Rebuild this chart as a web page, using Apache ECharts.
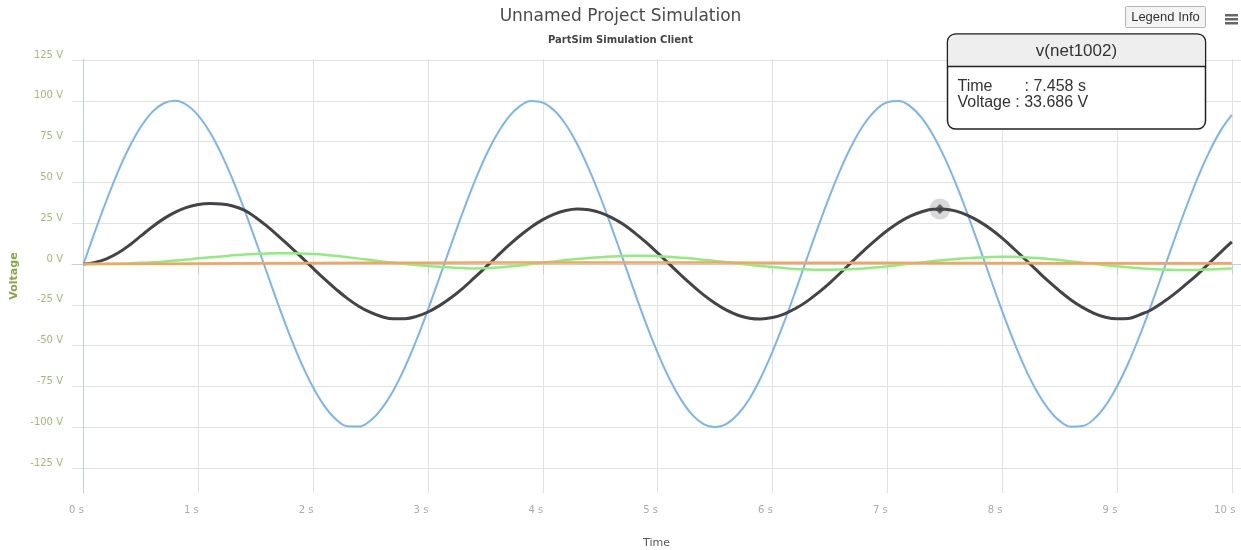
<!DOCTYPE html>
<html>
<head>
<meta charset="utf-8">
<title>Unnamed Project Simulation</title>
<script src="https://cdn.jsdelivr.net/npm/echarts@6/dist/echarts.min.js"></script>
<style>
  html, body { margin: 0; padding: 0; background: #fff; }
  #chart { width: 1241px; height: 550px; }
</style>
</head>
<body>
<div id="chart"></div>
<script>
// tick values
var timeTicks = [0, 1, 2, 3, 4, 5, 6, 7, 8, 9, 10];
var voltTicks = [-125, -100, -75, -50, -25, 0, 25, 50, 75, 100, 125];

// sample times (s), every 0.1 s
var sampleTimes = [
  0.0, 0.1, 0.2, 0.3, 0.4, 0.5, 0.6, 0.7, 0.8, 0.9,
  1.0, 1.1, 1.2, 1.3, 1.4, 1.5, 1.6, 1.7, 1.8, 1.9,
  2.0, 2.1, 2.2, 2.3, 2.4, 2.5, 2.6, 2.7, 2.8, 2.9,
  3.0, 3.1, 3.2, 3.3, 3.4, 3.5, 3.6, 3.7, 3.8, 3.9,
  4.0, 4.1, 4.2, 4.3, 4.4, 4.5, 4.6, 4.7, 4.8, 4.9,
  5.0, 5.1, 5.2, 5.3, 5.4, 5.5, 5.6, 5.7, 5.8, 5.9,
  6.0, 6.1, 6.2, 6.3, 6.4, 6.5, 6.6, 6.7, 6.8, 6.9,
  7.0, 7.1, 7.2, 7.3, 7.4, 7.5, 7.6, 7.7, 7.8, 7.9,
  8.0, 8.1, 8.2, 8.3, 8.4, 8.5, 8.6, 8.7, 8.8, 8.9,
  9.0, 9.1, 9.2, 9.3, 9.4, 9.5, 9.6, 9.7, 9.8, 9.9,
  10.0];

// v(net1001) - source, blue
var net1001Volts = [
  0, 19.9, 38.9, 56.5, 71.7, 84.1, 93.2, 98.5, 100.0, 97.4,
  90.9, 80.9, 67.5, 51.6, 33.5, 14.1, -5.8, -25.6, -44.3, -61.2,
  -75.7, -87.2, -95.2, -99.4, -99.6, -95.9, -88.3, -77.3, -63.1, -46.5,
  -27.9, -8.3, 11.6, 31.2, 49.4, 65.7, 79.3, 89.9, 96.7, 99.9,
  98.9, 94.1, 85.5, 73.4, 58.4, 41.2, 22.3, 2.5, -17.4, -36.7,
  -54.4, -70.0, -82.7, -92.3, -98.1, -100.0, -97.9, -91.9, -82.5, -69.4,
  -53.7, -35.9, -16.6, 3.4, 23.2, 42.0, 59.2, 74.0, 85.9, 94.4,
  99.1, 99.8, 96.6, 89.5, 78.8, 65.0, 48.6, 30.3, 10.8, -9.2,
  -28.8, -47.2, -63.8, -77.8, -88.6, -96.1, -99.7, -99.3, -95.0, -86.8,
  -75.1, -60.5, -43.5, -24.7, -5.0, 15.0, 34.3, 52.3, 68.2, 81.4,
  91.3];

// v(net1002) - black
var net1002Volts = [
  0, 1.0, 3.2, 6.7, 11.5, 17.2, 22.8, 27.8, 31.8, 34.7,
  36.4, 37.0, 36.7, 35.5, 33.0, 28.5, 23.0, 17.0, 10.6, 4.1,
  -2.7, -9.3, -15.5, -21.2, -26.0, -29.7, -32.3, -33.6, -33.5, -32.1,
  -29.4, -25.5, -20.7, -15.1, -8.7, -2.1, 4.6, 11.2, 17.3, 22.7,
  27.2, 30.6, 32.8, 33.7, 33.2, 31.5, 28.4, 24.3, 19.1, 13.2,
  6.8, 0.1, -6.6, -13.0, -18.9, -24.0, -28.3, -31.4, -33.2, -33.7,
  -32.8, -30.7, -27.3, -22.9, -17.5, -11.5, -4.9, 1.9, 8.5, 14.8,
  20.5, 25.4, 29.3, 32.0, 33.5, 33.6, 32.4, 29.8, 26.1, 21.4,
  15.8, 9.5, 2.9, -3.8, -10.4, -16.5, -22.0, -26.6, -30.2, -32.6,
  -33.6, -33.4, -31.0, -28.0, -23.5, -18.3, -12.5, -6.5, 0.3, 7.0,
  13.5];

// v(net1003) - green
var net1003Volts = [
  0, 0.0, 0.1, 0.2, 0.4, 0.7, 1.0, 1.5, 2.1, 2.7,
  3.5, 4.1, 4.6, 5.3, 5.8, 6.2, 6.5, 6.6, 6.6, 6.5,
  6.2, 5.7, 5.0, 4.2, 3.3, 2.4, 1.5, 0.7, 0.0, -0.6,
  -1.2, -1.7, -2.2, -2.5, -2.7, -2.6, -2.2, -1.6, -0.9, 0.0,
  0.8, 1.6, 2.4, 3.1, 3.7, 4.2, 4.6, 4.9, 5.0, 5.0,
  4.8, 4.4, 3.9, 3.3, 2.6, 1.9, 1.1, 0.3, -0.5, -1.2,
  -1.9, -2.5, -3.0, -3.3, -3.5, -3.5, -3.4, -3.1, -2.7, -2.1,
  -1.4, -0.6, 0.2, 1.0, 1.8, 2.5, 3.1, 3.6, 4.0, 4.3,
  4.4, 4.4, 4.1, 3.7, 3.1, 2.4, 1.6, 0.8, 0.0, -0.7,
  -1.4, -2.0, -2.6, -3.0, -3.4, -3.6, -3.7, -3.6, -3.3, -3.0,
  -2.7];

// v(out) - orange, read every 1 s
var outTimes = [0, 1, 2, 3, 4, 5, 6, 7, 8, 9, 10];
var outVolts = [0, 0.3, 0.6, 0.8, 0.9, 0.9, 0.8, 0.7, 0.6, 0.5, 0.5];

// hovered point
var hoverName = 'v(net1002)';
var hoverTime = 7.458;
var hoverVolt = 33.686;

function pairs(ts, vs) {
  return ts.map(function (t, i) { return [t, vs[i]]; });
}

function lineSeries(name, data, color, width) {
  return {
    name: name,
    type: 'line',
    data: data,
    smooth: 0.4,
    showSymbol: false,
    silent: true,
    lineStyle: { color: color, width: width },
    itemStyle: { color: color }
  };
}

var TIP_Z = 100;
var tipFont = '"Liberation Sans", Arial, sans-serif';

var chart = echarts.init(document.getElementById('chart'));

var option = {
  animation: false,
  title: [
    {
      text: 'Unnamed Project Simulation',
      left: 'center',
      top: 3,
      textStyle: { fontFamily: 'DejaVu Sans', fontSize: 17, fontWeight: 'normal', color: '#4a4a4a' }
    },
    {
      text: 'PartSim Simulation Client',
      left: 'center',
      top: 30,
      textStyle: { fontFamily: 'DejaVu Sans', fontSize: 10, fontWeight: 'bold', color: '#444' }
    }
  ],
  grid: { left: 72, right: 0, top: 59, bottom: 57, outerBoundsMode: 'none', containLabel: false },
  xAxis: {
    type: 'value',
    min: -0.1,
    max: 10.08,
    name: 'Time',
    nameLocation: 'middle',
    nameGap: 45,
    nameTextStyle: { fontFamily: 'DejaVu Sans', fontSize: 11, color: '#555' },
    axisLine: { show: true, lineStyle: { color: '#c0d0e0', width: 1 } },
    axisTick: { show: true, customValues: timeTicks, length: 10, lineStyle: { color: '#c0d0e0' } },
    axisLabel: {
      customValues: timeTicks,
      formatter: function (v) { return v + ' s'; },
      fontFamily: 'DejaVu Sans',
      fontSize: 10,
      color: '#aaa',
      margin: 12,
      padding: [0, 14, 0, 0]
    },
    splitLine: { show: true, lineStyle: { color: '#e2e2e2', width: 1 } }
  },
  yAxis: {
    type: 'value',
    min: -140.3,
    max: 125.6,
    name: 'Voltage',
    nameLocation: 'middle',
    nameGap: 52,
    nameTextStyle: { fontFamily: 'DejaVu Sans', fontSize: 11, fontWeight: 'bold', color: '#89a54e' },
    axisLine: { show: true, lineStyle: { color: '#c0d0e0', width: 1 } },
    axisTick: { show: false, customValues: voltTicks },
    axisLabel: {
      customValues: voltTicks,
      formatter: function (v) { return v + ' V'; },
      fontFamily: 'DejaVu Sans',
      fontSize: 10,
      color: '#a3b877',
      margin: 9,
      verticalAlign: 'bottom'
    },
    splitLine: { show: true, lineStyle: { color: '#e2e2e2', width: 1 } }
  },
  series: [
    lineSeries('v(net1001)', pairs(sampleTimes, net1001Volts), '#7cb5ec', 2),
    lineSeries(hoverName, pairs(sampleTimes, net1002Volts), '#434348', 3),
    lineSeries('v(net1003)', pairs(sampleTimes, net1003Volts), '#90ed7d', 2.5),
    lineSeries('v(out)', pairs(outTimes, outVolts), '#f7a35c', 2.5),
    {
      type: 'scatter',
      silent: true,
      symbol: 'circle',
      symbolSize: 21,
      itemStyle: { color: 'rgba(67,67,72,0.25)' },
      data: [[hoverTime, hoverVolt]]
    },
    {
      type: 'scatter',
      silent: true,
      symbol: 'diamond',
      symbolSize: 10,
      itemStyle: { color: '#434348' },
      data: [[hoverTime, hoverVolt]]
    }
  ],
  graphic: [
    // export menu button
    { type: 'rect', shape: { x: 1225, y: 14, width: 13, height: 2.5 }, style: { fill: '#666' } },
    { type: 'rect', shape: { x: 1225, y: 18, width: 13, height: 2.5 }, style: { fill: '#666' } },
    { type: 'rect', shape: { x: 1225, y: 22, width: 13, height: 2.5 }, style: { fill: '#666' } },
    // legend info button
    {
      type: 'rect',
      shape: { x: 1125.5, y: 6.5, width: 80, height: 21, r: 1 },
      style: { fill: '#f4f4f4', stroke: '#b5b5b5', lineWidth: 1 }
    },
    {
      type: 'text',
      x: 1165.5, y: 17,
      style: { text: 'Legend Info', font: '13px ' + tipFont, fill: '#333', align: 'center', verticalAlign: 'middle' }
    },
    // tooltip box
    {
      type: 'rect', z: TIP_Z,
      shape: { x: 947.5, y: 34, width: 258, height: 95, r: 8 },
      style: { fill: '#fff', stroke: '#222', lineWidth: 1.5 }
    },
    {
      type: 'rect', z: TIP_Z + 1,
      shape: { x: 948.3, y: 34.8, width: 256.4, height: 31.4, r: [7, 7, 0, 0] },
      style: { fill: '#eeeeee' }
    },
    {
      type: 'line', z: TIP_Z + 2,
      shape: { x1: 947.5, y1: 66.5, x2: 1205.5, y2: 66.5 },
      style: { stroke: '#222', lineWidth: 1.5 }
    },
    {
      type: 'text', z: TIP_Z + 2,
      x: 1076.5, y: 51,
      style: { text: hoverName, font: '17px ' + tipFont, fill: '#333', align: 'center', verticalAlign: 'middle' }
    },
    {
      type: 'text', z: TIP_Z + 2,
      x: 957.5, y: 86.5,
      style: { text: 'Time', font: '16px ' + tipFont, fill: '#333', verticalAlign: 'middle' }
    },
    {
      type: 'text', z: TIP_Z + 2,
      x: 1024.5, y: 86.5,
      style: { text: ': ' + hoverTime + ' s', font: '16px ' + tipFont, fill: '#333', verticalAlign: 'middle' }
    },
    {
      type: 'text', z: TIP_Z + 2,
      x: 957.5, y: 102.5,
      style: { text: 'Voltage : ' + hoverVolt + ' V', font: '16px ' + tipFont, fill: '#333', verticalAlign: 'middle' }
    }
  ]
};

chart.setOption(option);
</script>
</body>
</html>
